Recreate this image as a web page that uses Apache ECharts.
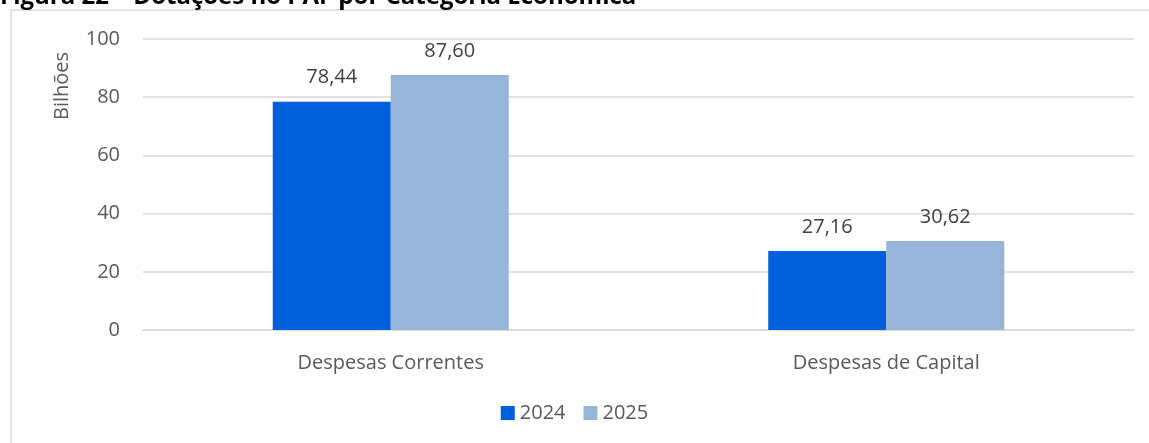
<!DOCTYPE html>
<html><head><meta charset="utf-8">
<script src="https://cdn.jsdelivr.net/npm/echarts@6/dist/echarts.min.js"></script>
<style>html,body{margin:0;padding:0;background:#fff}#c{width:1149px;height:443px}</style>
</head><body><div id="c"></div>
<script>
const categories = ['Despesas Correntes', 'Despesas de Capital'];
const series2024 = [78.44, 27.16];
const series2025 = [87.60, 30.62];
const seriesNames = ['2024', '2025'];
const yTicks = [0, 20, 40, 60, 80, 100];
const FONT = 'Open Sans';
const FS = 20;
const fmt = v => v.toFixed(2).replace('.', ',');
const chart = echarts.init(document.getElementById('c'));
const lbl = {show: true, position: 'top', distance: 14, color: '#404040', fontSize: FS, fontFamily: FONT, formatter: p => fmt(p.value)};
chart.setOption({
  animation: false,
  textStyle: {fontFamily: FONT},
  title: {text: 'Figura 22 – Dotações no PAF por Categoria Econômica', left: 0, top: -15, padding: 0,
    textStyle: {fontSize: 24, fontWeight: 'bold', color: '#000', fontFamily: FONT}},
  graphic: [
    {type: 'rect', shape: {x: 11, y: 10, width: 1160, height: 460}, style: {fill: 'none', stroke: '#d9d9d9', lineWidth: 1.5}, z: -1},
    {type: 'text', x: 62, y: 86, rotation: Math.PI / 2, style: {text: 'Bilhões', fill: '#595959', fontSize: FS, fontFamily: FONT, align: 'center', verticalAlign: 'middle'}}
  ],
  grid: {left: 143, right: 15, top: 39, bottom: 113},
  legend: {bottom: 15, left: 'center', itemWidth: 14, itemHeight: 14, itemGap: 18, icon: 'rect',
    textStyle: {color: '#595959', fontSize: FS, fontFamily: FONT}},
  xAxis: {type: 'category', data: categories,
    axisLine: {lineStyle: {color: '#d9d9d9', width: 1.5}}, axisTick: {show: false},
    axisLabel: {color: '#595959', fontSize: FS, fontFamily: FONT, margin: 23}},
  yAxis: {type: 'value', min: yTicks[0], max: yTicks[yTicks.length - 1], interval: 20,
    axisLine: {show: false}, axisTick: {show: false},
    splitLine: {lineStyle: {color: '#d9d9d9', width: 1.5}},
    axisLabel: {color: '#595959', fontSize: FS, fontFamily: FONT, margin: 23}},
  series: [
    {name: seriesNames[0], type: 'bar', data: series2024, barWidth: 118, barGap: '0%', itemStyle: {color: '#005FDB'}, label: lbl},
    {name: seriesNames[1], type: 'bar', data: series2025, barWidth: 118, barGap: '0%', itemStyle: {color: '#97B5D9'}, label: lbl}
  ]
});
</script></body></html>
